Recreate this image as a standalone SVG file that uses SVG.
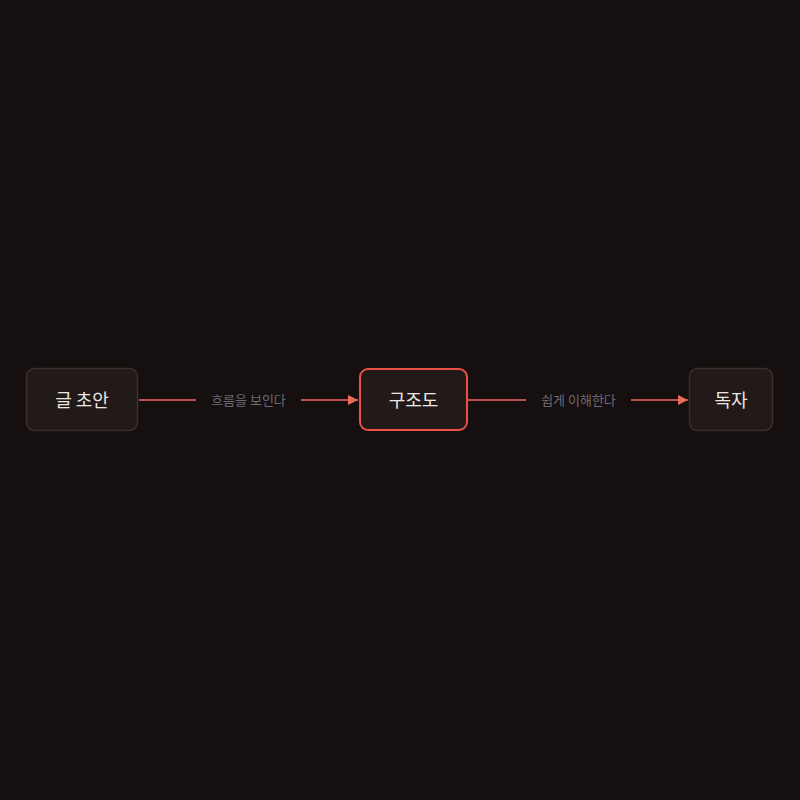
<svg xmlns="http://www.w3.org/2000/svg" width="800" height="800" viewBox="0 0 800 800">
<style>
.node rect{fill:#211a18;stroke:#3b302b;stroke-width:1.5}
.node.hl rect{stroke:#ea4f48;stroke-width:2}
.node text{font-family:"Noto Sans CJK KR","Noto Sans",sans-serif;font-size:18px;font-weight:400;fill:#ece6e2;text-anchor:middle;dominant-baseline:central}
.edge line{stroke:#ec6a5e;stroke-width:1.6}
.lbl{font-family:"Noto Sans CJK KR","Noto Sans",sans-serif;font-size:13px;fill:#6c6a76;text-anchor:middle;dominant-baseline:central}
</style>
<defs>
<marker id="ah" viewBox="0 0 10 10" refX="10" refY="5" markerWidth="10" markerHeight="10" markerUnits="userSpaceOnUse" orient="auto">
<path d="M0,0 L10,5 L0,10 Z" fill="#ec6a5e"/>
</marker>
</defs>
<rect width="800" height="800" fill="#150f0f"/>
<g id="connectors">
<g class="edge" id="e1">
<line x1="139" y1="400" x2="196" y2="400"/>
<line x1="301" y1="400" x2="358" y2="400" marker-end="url(#ah)"/>
<text class="lbl" x="248.5" y="399">흐름을 보인다</text>
</g>
<g class="edge" id="e2">
<line x1="468" y1="400" x2="526" y2="400"/>
<line x1="631" y1="400" x2="688" y2="400" marker-end="url(#ah)"/>
<text class="lbl" x="578.5" y="399">쉽게 이해한다</text>
</g>
</g>
<g class="node" id="draft">
<rect x="26.5" y="368.5" width="111" height="62" rx="8"/>
<text x="82" y="399">글 초안</text>
</g>
<g class="node hl" id="diagram">
<rect x="360" y="369" width="107" height="61" rx="8"/>
<text x="413.5" y="399">구조도</text>
</g>
<g class="node" id="reader">
<rect x="689.5" y="368.5" width="83" height="62" rx="8"/>
<text x="731" y="399">독자</text>
</g>
</svg>
